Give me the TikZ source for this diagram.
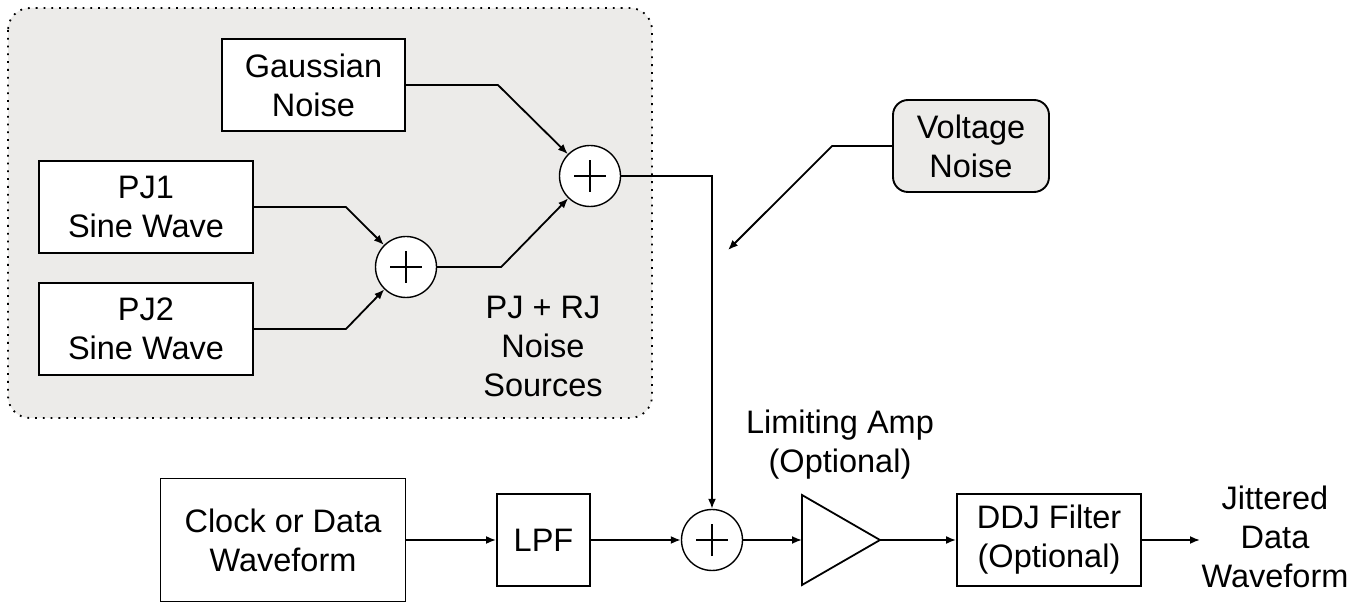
\documentclass[tikz,border=0pt]{standalone}
\usepackage{fontspec}
\setmainfont{Liberation Sans}
\usetikzlibrary{arrows.meta}
\definecolor{regiongray}{RGB}{236,235,233}
\begin{document}
\begin{tikzpicture}[x=1pt,y=-1pt,
  every node/.style={font=\fontsize{32.5}{39}\selectfont, align=center, inner sep=0pt},
  box/.style={draw, line width=1.9pt, fill=white},
  sumnode/.style={draw, circle, line width=1.4pt, fill=white, minimum size=61pt},
  arr/.style={line width=1.8pt, -{Latex[length=10pt,width=8pt]}},
  wire/.style={line width=1.8pt}]
\useasboundingbox (0,0) rectangle (1369,609);
% shaded region
\path[fill=regiongray, rounded corners=22pt] (8,8) rectangle (652,418);
\draw[line width=1.8pt, dash pattern=on 1.8pt off 6pt, rounded corners=22pt] (8,8) rectangle (652,418);
% blocks
\node[box, minimum width=183pt, minimum height=92pt] (gauss) at (313.5,85) {Gaussian\\Noise};
\node[box, minimum width=214pt, minimum height=92pt] (pj1) at (146,207) {PJ1\\Sine Wave};
\node[box, minimum width=214pt, minimum height=92pt] (pj2) at (146,329) {PJ2\\Sine Wave};
\node[box, minimum width=245pt, minimum height=123pt] (clock) at (283,540) {Clock or Data\\Waveform};
\node[box, minimum width=93pt, minimum height=92pt] (lpf) at (543.5,540) {LPF};
\node[box, minimum width=184pt, minimum height=92pt] (ddj) at (1049,540) {DDJ Filter\\(Optional)};
\node[draw, line width=1.9pt, fill=regiongray, rounded corners=15pt, minimum width=156pt, minimum height=92pt] (volt) at (971,146) {Voltage\\Noise};
% summing junctions
\node[sumnode] (s1) at (406,267) {};
\node[sumnode] (s2) at (590,176) {};
\node[sumnode] (s3) at (712,540) {};
\foreach \s in {s1,s2,s3}{
  \draw[line width=1.5pt] ([xshift=-16pt]\s.center) -- ([xshift=16pt]\s.center);
  \draw[line width=1.5pt] ([yshift=-16pt]\s.center) -- ([yshift=16pt]\s.center);
}
% amplifier
\coordinate (ampin) at (802,540);
\coordinate (ampout) at (880,540);
\draw[wire] (802,495) -- (ampout) -- (802,585) -- cycle;
% labels
\node (pjrj) at (543,346) {\fontsize{32.5}{36}\selectfont PJ + RJ\\Noise\\Sources};
\node (limamp) at (840,445) {Limiting Amp\\(Optional)};
\node (jit) at (1275,537) {Jittered\\Data\\Waveform};
\coordinate (out) at (1200,540);
\coordinate (vtip) at (728,250);
% connectors
\draw[arr] (gauss.east) -- ++(92,0) -- (s2);
\draw[arr] (pj1.east) -- ++(92,0) -- (s1);
\draw[arr] (pj2.east) -- ++(92,0) -- (s1);
\draw[arr] (s1.east) -- ++(64,0) -- (s2);
\draw[arr] (s2.east) -| (s3.north);
\draw[arr] (volt.west) -- ++(-60,0) -- (vtip);
\draw[arr] (clock.east) -- (lpf.west);
\draw[arr] (lpf.east) -- (s3.west);
\draw[arr] (s3.east) -- (ampin);
\draw[arr] (ampout) -- (ddj.west);
\draw[arr] (ddj.east) -- (out);
\end{tikzpicture}
\end{document}
